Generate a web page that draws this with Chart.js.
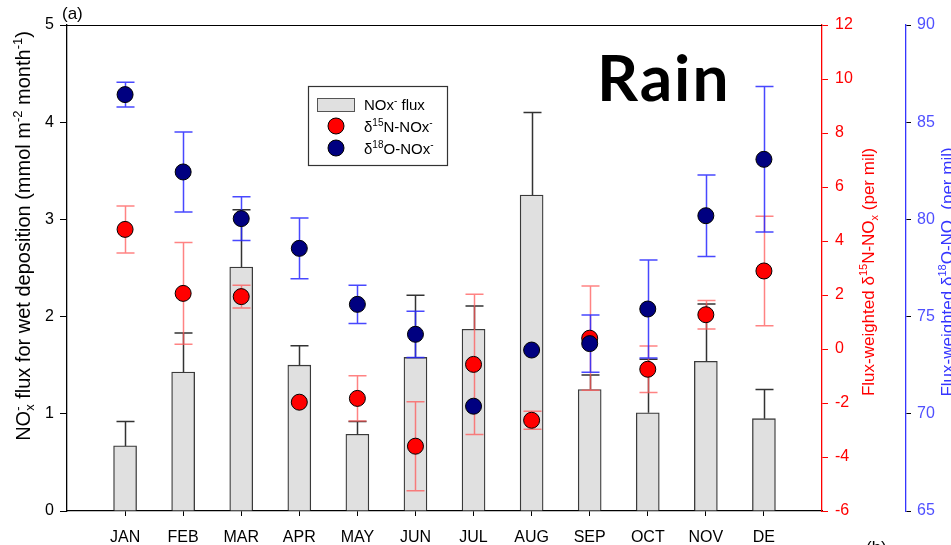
<!DOCTYPE html>
<html><head><meta charset="utf-8">
<script src="https://cdn.jsdelivr.net/npm/chart.js@4.4.1/dist/chart.umd.min.js"></script>
<style>html,body{margin:0;padding:0;background:#fff;overflow:hidden}#wrap{width:951px;height:545px;position:relative}</style>
</head><body><div id="wrap"><canvas id="c"></canvas></div>
<script>
const months = ['JAN','FEB','MAR','APR','MAY','JUN','JUL','AUG','SEP','OCT','NOV','DE'];
const fluxValues = [0.67,1.43,2.51,1.50,0.79,1.58,1.87,3.25,1.25,1.01,1.54,0.95];
const fluxErr    = [0.25,0.40,0.59,0.20,0.13,0.64,0.24,0.85,0.15,0.55,0.59,0.30];
const d15N       = [4.43,2.06,1.94,-1.97,-1.83,-3.60,-0.57,-2.64,0.40,-0.75,1.27,2.89];
const d15NErr    = [0.87,1.88,0.42,null,0.84,1.65,2.60,0.33,1.93,0.86,0.53,2.03];
const d18O       = [86.42,82.44,80.04,78.51,75.63,74.09,70.39,73.28,73.61,75.39,80.19,83.09];
const d18OErr    = [0.64,2.06,1.13,1.56,0.98,1.19,null,null,1.47,2.52,2.10,3.74];
const leftTicks  = [0,1,2,3,4,5];
const redTicks   = [-6,-4,-2,0,2,4,6,8,10,12];
const blueTicks  = [65,70,75,80,85,90];

const FONT = '"Liberation Sans", Arial, sans-serif';
const RED = '#ff0000', BLUE = '#3535ff', BLUE_TXT = '#5050ff';
const labels = ['', ...months, ''];
const pad = a => [null, ...a, null];

function drawRich(ctx, segs, x, y, size, color, align) {
  const small = Math.round(size * 0.64);
  const fN = size + 'px ' + FONT, fS = small + 'px ' + FONT;
  const w = s => {
    if (s.k === 'ss') { ctx.font = fS; return Math.max(ctx.measureText(s.sub).width, ctx.measureText(s.sup).width); }
    ctx.font = (s.k ? fS : fN); return ctx.measureText(s.t).width;
  };
  let total = 0; segs.forEach(s => total += w(s));
  let cx = align === 'center' ? x - total / 2 : x;
  ctx.fillStyle = color; ctx.textBaseline = 'alphabetic'; ctx.textAlign = 'left';
  segs.forEach(s => {
    const ww = w(s);
    if (s.k === 'ss') {
      ctx.font = fS;
      ctx.fillText(s.sub, cx, y + size * 0.22);
      ctx.fillText(s.sup, cx, y - size * 0.42);
    } else if (s.k === 'sup') { ctx.font = fS; ctx.fillText(s.t, cx, y - size * 0.42); }
    else if (s.k === 'sub') { ctx.font = fS; ctx.fillText(s.t, cx, y + size * 0.22); }
    else { ctx.font = fN; ctx.fillText(s.t, cx, y); }
    cx += ww;
  });
}

const errPlugin = {
  id: 'errbars',
  afterDatasetDraw(chart, args) {
    if (args.index !== 0) return;
    const ctx = chart.ctx, xs = chart.scales.x;
    const draw = (vals, errs, scale, color, both) => {
      ctx.save(); ctx.strokeStyle = color; ctx.lineWidth = 1.5;
      vals.forEach((v, i) => {
        const e = errs[i]; if (e == null || v == null) return;
        const px = Math.round(xs.getPixelForValue(i + 1)) + 0.5;
        const top = scale.getPixelForValue(v + e);
        const bot = both ? scale.getPixelForValue(v - e) : scale.getPixelForValue(v);
        ctx.beginPath();
        ctx.moveTo(px, top); ctx.lineTo(px, bot);
        ctx.moveTo(px - 9, top); ctx.lineTo(px + 9, top);
        if (both) { ctx.moveTo(px - 9, bot); ctx.lineTo(px + 9, bot); }
        ctx.stroke();
      });
      ctx.restore();
    };
    draw(fluxValues, fluxErr, chart.scales.y, '#333333', false);
    draw(d15N, d15NErr, chart.scales.y1, 'rgba(255,90,90,0.75)', true);
    draw(d18O, d18OErr, chart.scales.y2, 'rgba(40,40,255,0.85)', true);
  }
};

const overlayPlugin = {
  id: 'overlay',
  afterDraw(chart) {
    const ctx = chart.ctx, a = chart.chartArea;
    ctx.save();
    ctx.strokeStyle = '#000'; ctx.lineWidth = 1.2;
    ctx.beginPath(); ctx.moveTo(a.left, a.top + 0.5); ctx.lineTo(a.right, a.top + 0.5); ctx.stroke();

    ctx.fillStyle = '#000'; ctx.font = '17px ' + FONT; ctx.textBaseline = 'alphabetic'; ctx.textAlign = 'left';
    ctx.fillText('(a)', 62, 19);
    ctx.fillText('(b)', 866, 553);

    ctx.font = 'bold 64px Lato, "Open Sans", sans-serif';
    try { ctx.letterSpacing = '2px'; } catch (e) {}
    ctx.fillText('Rain', 597, 101);
    try { ctx.letterSpacing = '0px'; } catch (e) {}

    ctx.fillStyle = '#fff'; ctx.fillRect(308, 86, 140, 80);
    ctx.strokeStyle = '#333'; ctx.lineWidth = 1.2; ctx.strokeRect(308.5, 86.5, 139, 79);
    ctx.fillStyle = '#e0e0e0'; ctx.fillRect(317, 98, 38, 14);
    ctx.strokeStyle = '#555'; ctx.lineWidth = 1; ctx.strokeRect(317.5, 98.5, 37, 13);
    ctx.beginPath(); ctx.arc(336, 126, 8, 0, Math.PI * 2); ctx.fillStyle = '#ff0000'; ctx.fill(); ctx.strokeStyle = '#000'; ctx.stroke();
    ctx.beginPath(); ctx.arc(336, 148, 8, 0, Math.PI * 2); ctx.fillStyle = '#000080'; ctx.fill(); ctx.stroke();
    drawRich(ctx, [{t:'NOx'},{t:'-',k:'sup'},{t:' flux'}], 364, 110, 15, '#000', 'left');
    drawRich(ctx, [{t:'\u03b4'},{t:'15',k:'sup'},{t:'N-NOx'},{t:'-',k:'sup'}], 364, 132, 15, '#000', 'left');
    drawRich(ctx, [{t:'\u03b4'},{t:'18',k:'sup'},{t:'O-NOx'},{t:'-',k:'sup'}], 364, 154, 15, '#000', 'left');

    ctx.save(); ctx.translate(30, 236); ctx.rotate(-Math.PI / 2);
    drawRich(ctx, [{t:'NO'},{k:'ss',sub:'x',sup:'-'},{t:' flux for wet deposition (mmol m'},{t:'-2',k:'sup'},{t:' month'},{t:'-1',k:'sup'},{t:')'}], 0, 0, 20, '#000', 'center');
    ctx.restore();
    ctx.save(); ctx.translate(874, 272); ctx.rotate(-Math.PI / 2);
    drawRich(ctx, [{t:'Flux-weighted \u03b4'},{t:'15',k:'sup'},{t:'N-NO'},{t:'x',k:'sub'},{t:' (per mil)'}], 0, 0, 17, RED, 'center');
    ctx.restore();
    ctx.save(); ctx.translate(953, 272); ctx.rotate(-Math.PI / 2);
    drawRich(ctx, [{t:'Flux-weighted \u03b4'},{t:'18',k:'sup'},{t:'O-NO'},{t:'x',k:'sub'},{t:' (per mil)'}], 0, 0, 17, BLUE, 'center');
    ctx.restore();
    ctx.restore();
  }
};

const tickFont = { family: FONT, size: 16 };
new Chart(document.getElementById('c'), {
  type: 'bar',
  data: {
    labels: labels,
    datasets: [
      { type: 'bar', label: 'NOx- flux', data: pad(fluxValues), yAxisID: 'y', order: 3,
        backgroundColor: '#e0e0e0', borderColor: '#3a3a3a', borderWidth: 1.3, barThickness: 23 },
      { type: 'line', label: 'd15N', data: pad(d15N), yAxisID: 'y1', order: 2, showLine: false,
        pointRadius: 8, pointHoverRadius: 8, pointBackgroundColor: '#ff0000', pointBorderColor: '#000', pointBorderWidth: 1 },
      { type: 'line', label: 'd18O', data: pad(d18O), yAxisID: 'y2', order: 1, showLine: false,
        pointRadius: 8, pointHoverRadius: 8, pointBackgroundColor: '#000080', pointBorderColor: '#000', pointBorderWidth: 1 }
    ]
  },
  options: {
    responsive: true, maintainAspectRatio: false, animation: false, events: [],
    layout: { padding: { top: 25, left: 0, right: 0, bottom: 0 } },
    plugins: { legend: { display: false }, tooltip: { enabled: false } },
    scales: {
      x: {
        type: 'category', offset: false,
        grid: { offset: false, drawOnChartArea: false, drawTicks: true, tickLength: 5,
                tickColor: c => (c.index === 0 || c.index === labels.length - 1) ? 'rgba(0,0,0,0)' : '#000' },
        border: { display: true, color: '#000', width: 1.3 },
        ticks: { autoSkip: false, maxRotation: 0, color: '#000', font: tickFont, padding: 12 },
        afterFit: s => { s.height = 34; }
      },
      y: {
        position: 'left', min: 0, max: 5,
        afterBuildTicks: s => { s.ticks = leftTicks.map(v => ({ value: v })); },
        grid: { drawOnChartArea: false, tickLength: 7, tickColor: '#000' },
        border: { display: true, color: '#000', width: 1.3 },
        ticks: { color: '#000', font: tickFont, padding: 6 },
        afterFit: s => { s.width = 67; }
      },
      y1: {
        position: 'right', min: -6, max: 12,
        afterBuildTicks: s => { s.ticks = redTicks.map(v => ({ value: v })); },
        grid: { drawOnChartArea: false, tickLength: 6, tickColor: RED },
        border: { display: true, color: RED, width: 1.3 },
        ticks: { color: RED, font: tickFont, padding: 7 },
        afterFit: s => { s.width = 84; }
      },
      y2: {
        position: 'right', min: 65, max: 90,
        afterBuildTicks: s => { s.ticks = blueTicks.map(v => ({ value: v })); },
        grid: { drawOnChartArea: false, tickLength: 5, tickColor: '#000' },
        border: { display: true, color: BLUE, width: 1.3 },
        ticks: { color: BLUE_TXT, font: tickFont, padding: 6 },
        afterFit: s => { s.width = 45; }
      }
    }
  },
  plugins: [errPlugin, overlayPlugin]
});
</script></body></html>
